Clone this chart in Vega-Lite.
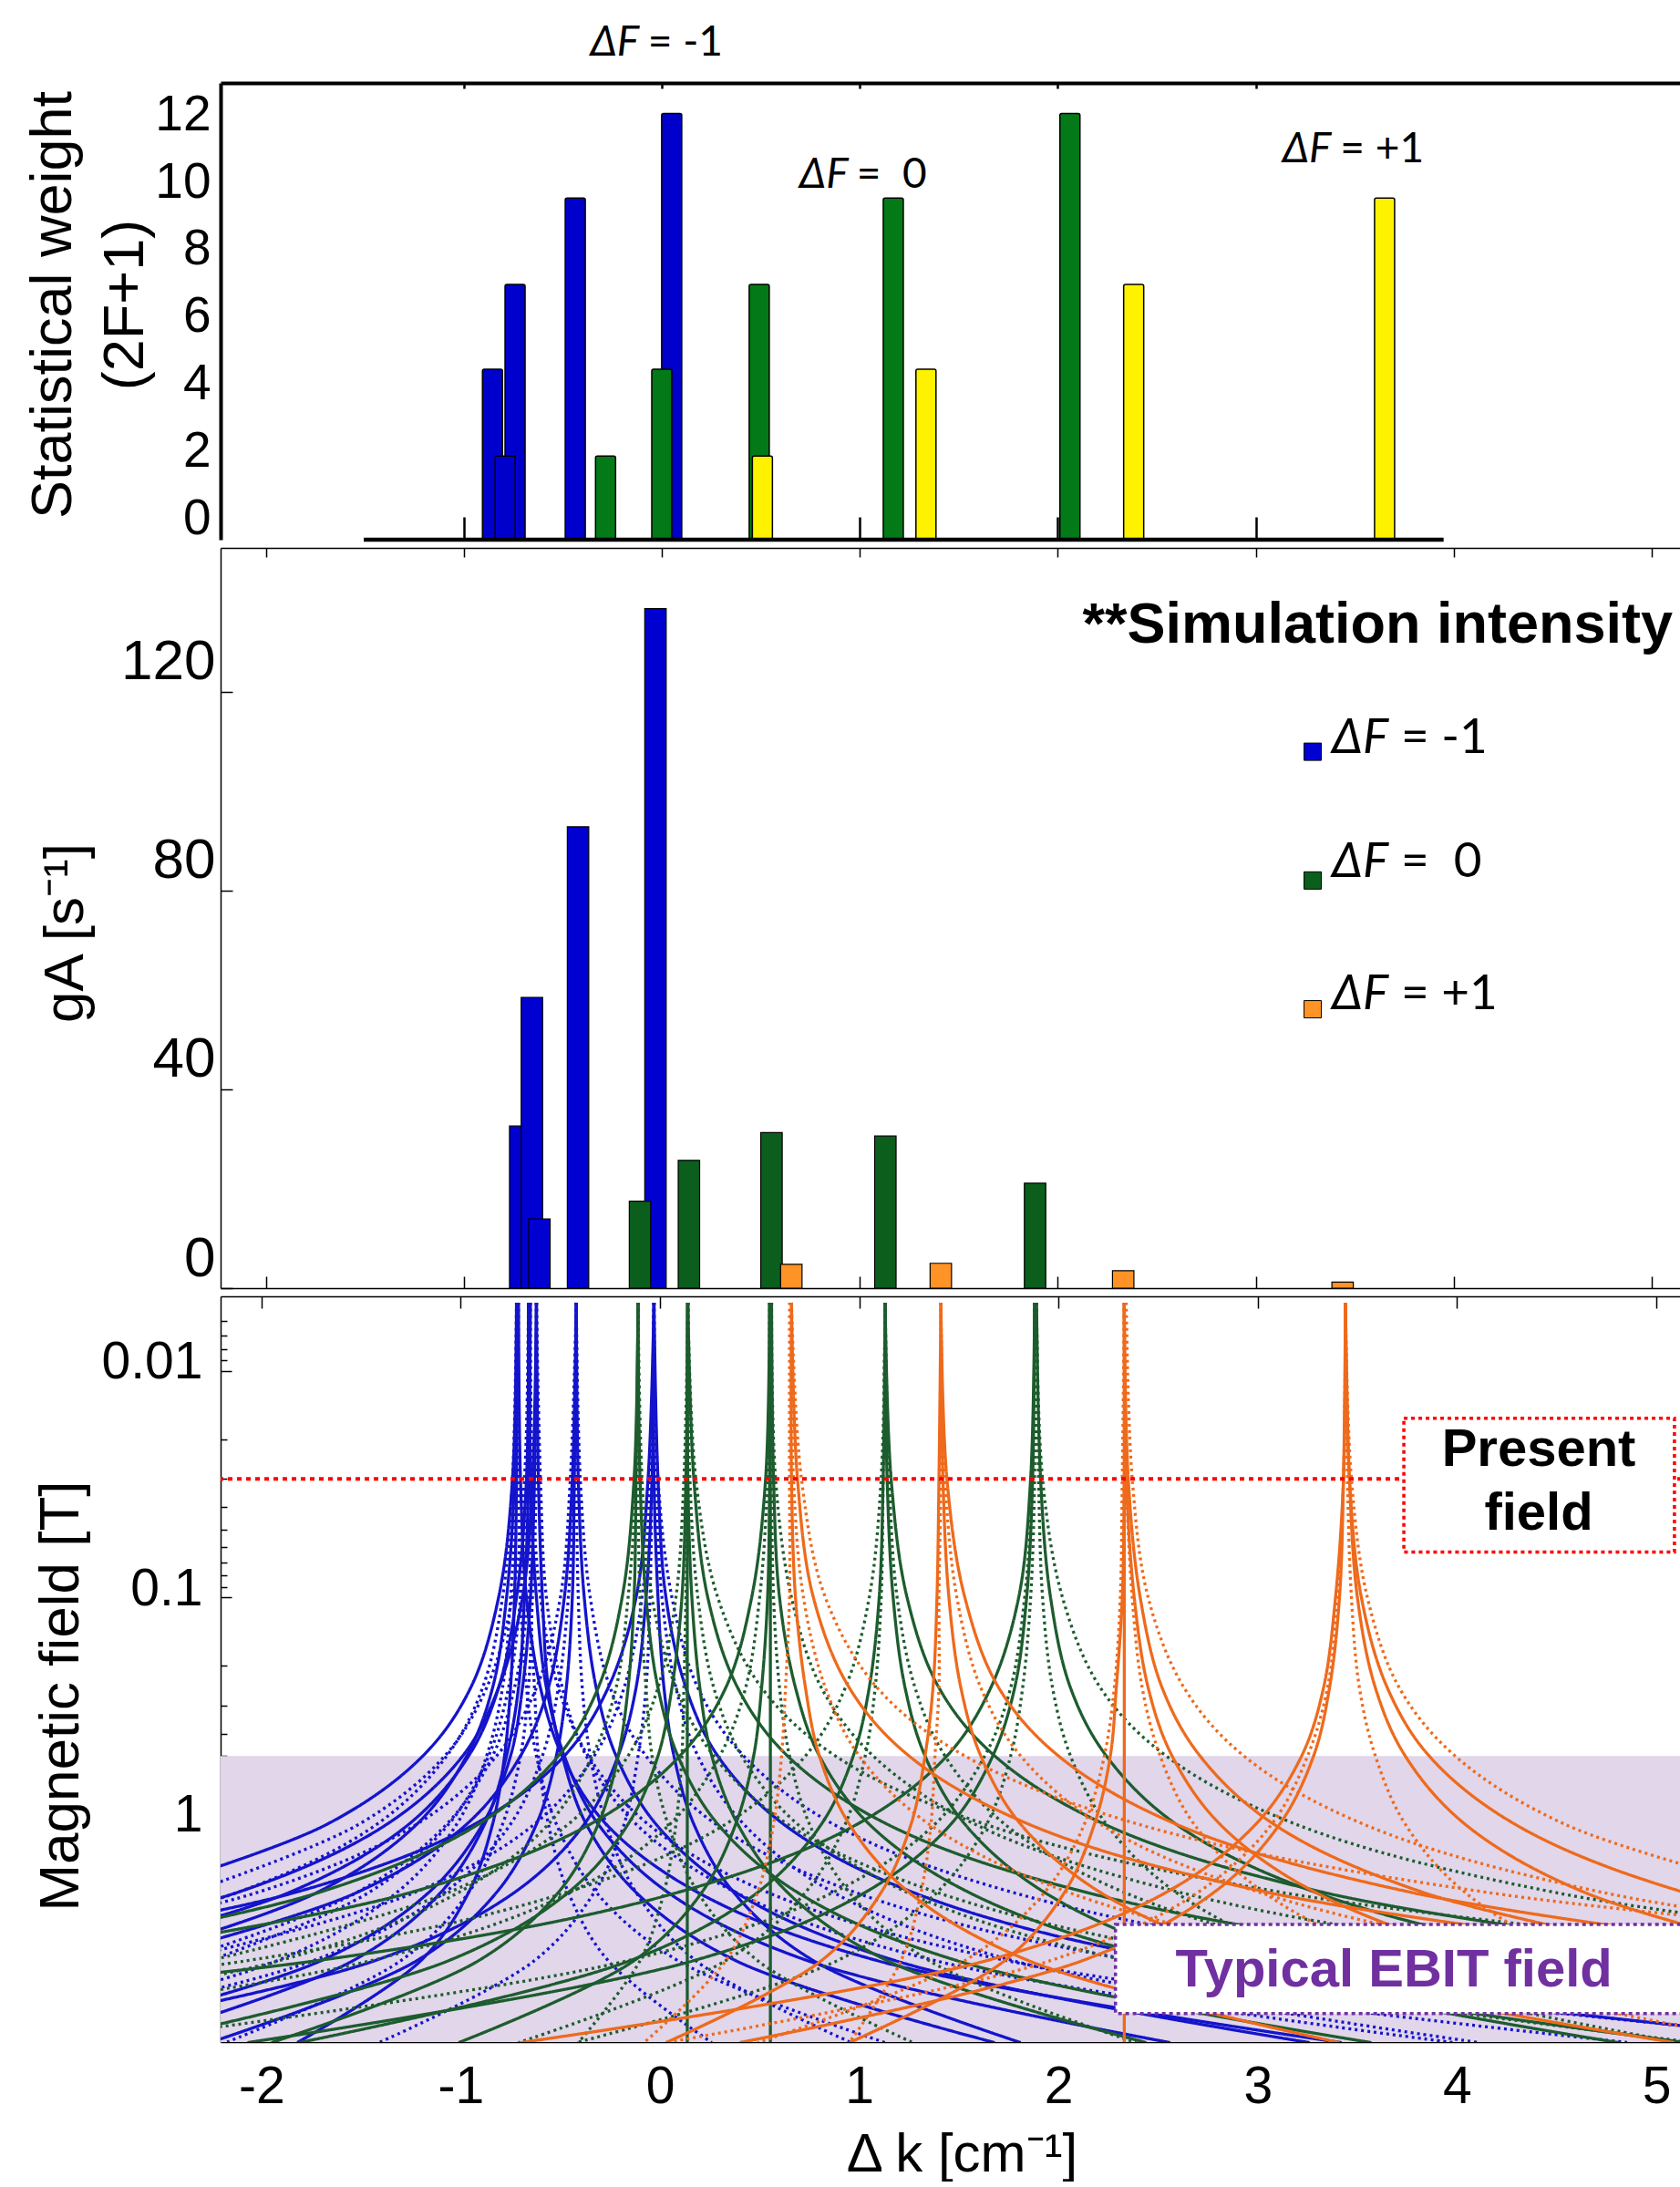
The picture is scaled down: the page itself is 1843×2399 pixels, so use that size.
{
"$schema":"https://vega.github.io/schema/vega-lite/v6.json",
"background":"white",
"padding":{"left":26,"top":24,"right":0,"bottom":0},
"config":{"view":{"stroke":null},"font":"Liberation Sans","axis":{"grid":false,"domainColor":"black","tickColor":"black","labelColor":"black","titleColor":"black","labelFont":"Liberation Sans","titleFont":"Liberation Sans","titleFontWeight":"normal","labelFlush":false,"labelOverlap":false}},
"datasets":{"curves":[
{"c":"b1a","g":"-1","p":"pi","B":0.005,"k":-0.72},{"c":"b1a","g":"-1","p":"pi","B":0.03,"k":-0.74},{"c":"b1a","g":"-1","p":"pi","B":0.1,"k":-0.81},{"c":"b1a","g":"-1","p":"pi","B":0.25,"k":-0.95},{"c":"b1a","g":"-1","p":"pi","B":0.5,"k":-1.19},{"c":"b1a","g":"-1","p":"pi","B":1,"k":-1.67},{"c":"b1a","g":"-1","p":"pi","B":2,"k":-2.62},
{"c":"b1b","g":"-1","p":"sg","B":0.005,"k":-0.72},{"c":"b1b","g":"-1","p":"sg","B":0.03,"k":-0.74},{"c":"b1b","g":"-1","p":"sg","B":0.1,"k":-0.79},{"c":"b1b","g":"-1","p":"sg","B":0.25,"k":-0.89},{"c":"b1b","g":"-1","p":"sg","B":0.5,"k":-1.07},{"c":"b1b","g":"-1","p":"sg","B":1,"k":-1.42},{"c":"b1b","g":"-1","p":"sg","B":2,"k":-2.12},{"c":"b1b","g":"-1","p":"sg","B":4,"k":-3.52},
{"c":"b1c","g":"-1","p":"pi","B":0.005,"k":-0.72},{"c":"b1c","g":"-1","p":"pi","B":0.03,"k":-0.73},{"c":"b1c","g":"-1","p":"pi","B":0.1,"k":-0.77},{"c":"b1c","g":"-1","p":"pi","B":0.25,"k":-0.84},{"c":"b1c","g":"-1","p":"pi","B":0.5,"k":-0.97},{"c":"b1c","g":"-1","p":"pi","B":1,"k":-1.22},{"c":"b1c","g":"-1","p":"pi","B":2,"k":-1.72},{"c":"b1c","g":"-1","p":"pi","B":4,"k":-2.72},
{"c":"b1d","g":"-1","p":"sg","B":0.005,"k":-0.72},{"c":"b1d","g":"-1","p":"sg","B":0.03,"k":-0.72},{"c":"b1d","g":"-1","p":"sg","B":0.1,"k":-0.75},{"c":"b1d","g":"-1","p":"sg","B":0.25,"k":-0.79},{"c":"b1d","g":"-1","p":"sg","B":0.5,"k":-0.87},{"c":"b1d","g":"-1","p":"sg","B":1,"k":-1.02},{"c":"b1d","g":"-1","p":"sg","B":2,"k":-1.32},{"c":"b1d","g":"-1","p":"sg","B":4,"k":-1.92},{"c":"b1d","g":"-1","p":"sg","B":9.2,"k":-3.48},
{"c":"b1e","g":"-1","p":"pi","B":0.005,"k":-0.72},{"c":"b1e","g":"-1","p":"pi","B":0.03,"k":-0.72},{"c":"b1e","g":"-1","p":"pi","B":0.1,"k":-0.73},{"c":"b1e","g":"-1","p":"pi","B":0.25,"k":-0.75},{"c":"b1e","g":"-1","p":"pi","B":0.5,"k":-0.78},{"c":"b1e","g":"-1","p":"pi","B":1,"k":-0.84},{"c":"b1e","g":"-1","p":"pi","B":2,"k":-0.96},{"c":"b1e","g":"-1","p":"pi","B":4,"k":-1.2},{"c":"b1e","g":"-1","p":"pi","B":9.2,"k":-1.82},
{"c":"b1f","g":"-1","p":"sg","B":0.005,"k":-0.71},{"c":"b1f","g":"-1","p":"sg","B":0.03,"k":-0.71},{"c":"b1f","g":"-1","p":"sg","B":0.1,"k":-0.7},{"c":"b1f","g":"-1","p":"sg","B":0.25,"k":-0.67},{"c":"b1f","g":"-1","p":"sg","B":0.5,"k":-0.62},{"c":"b1f","g":"-1","p":"sg","B":1,"k":-0.52},{"c":"b1f","g":"-1","p":"sg","B":2,"k":-0.32},{"c":"b1f","g":"-1","p":"sg","B":4,"k":0.09},{"c":"b1f","g":"-1","p":"sg","B":9.2,"k":1.13},
{"c":"b1g","g":"-1","p":"pi","B":0.005,"k":-0.71},{"c":"b1g","g":"-1","p":"pi","B":0.03,"k":-0.7},{"c":"b1g","g":"-1","p":"pi","B":0.1,"k":-0.67},{"c":"b1g","g":"-1","p":"pi","B":0.25,"k":-0.6},{"c":"b1g","g":"-1","p":"pi","B":0.5,"k":-0.49},{"c":"b1g","g":"-1","p":"pi","B":1,"k":-0.27},{"c":"b1g","g":"-1","p":"pi","B":2,"k":0.19},{"c":"b1g","g":"-1","p":"pi","B":4,"k":1.09},{"c":"b1g","g":"-1","p":"pi","B":9.2,"k":3.42},
{"c":"b2a","g":"-1","p":"sg","B":0.005,"k":-0.66},{"c":"b2a","g":"-1","p":"sg","B":0.03,"k":-0.68},{"c":"b2a","g":"-1","p":"sg","B":0.1,"k":-0.74},{"c":"b2a","g":"-1","p":"sg","B":0.25,"k":-0.87},{"c":"b2a","g":"-1","p":"sg","B":0.5,"k":-1.08},{"c":"b2a","g":"-1","p":"sg","B":1,"k":-1.51},{"c":"b2a","g":"-1","p":"sg","B":2,"k":-2.36},
{"c":"b2b","g":"-1","p":"pi","B":0.005,"k":-0.66},{"c":"b2b","g":"-1","p":"pi","B":0.03,"k":-0.67},{"c":"b2b","g":"-1","p":"pi","B":0.1,"k":-0.72},{"c":"b2b","g":"-1","p":"pi","B":0.25,"k":-0.81},{"c":"b2b","g":"-1","p":"pi","B":0.5,"k":-0.96},{"c":"b2b","g":"-1","p":"pi","B":1,"k":-1.26},{"c":"b2b","g":"-1","p":"pi","B":2,"k":-1.86},{"c":"b2b","g":"-1","p":"pi","B":4,"k":-3.06},
{"c":"b2c","g":"-1","p":"sg","B":0.005,"k":-0.66},{"c":"b2c","g":"-1","p":"sg","B":0.03,"k":-0.67},{"c":"b2c","g":"-1","p":"sg","B":0.1,"k":-0.7},{"c":"b2c","g":"-1","p":"sg","B":0.25,"k":-0.76},{"c":"b2c","g":"-1","p":"sg","B":0.5,"k":-0.86},{"c":"b2c","g":"-1","p":"sg","B":1,"k":-1.06},{"c":"b2c","g":"-1","p":"sg","B":2,"k":-1.46},{"c":"b2c","g":"-1","p":"sg","B":4,"k":-2.26},
{"c":"b2d","g":"-1","p":"pi","B":0.005,"k":-0.66},{"c":"b2d","g":"-1","p":"pi","B":0.03,"k":-0.66},{"c":"b2d","g":"-1","p":"pi","B":0.1,"k":-0.68},{"c":"b2d","g":"-1","p":"pi","B":0.25,"k":-0.71},{"c":"b2d","g":"-1","p":"pi","B":0.5,"k":-0.77},{"c":"b2d","g":"-1","p":"pi","B":1,"k":-0.88},{"c":"b2d","g":"-1","p":"pi","B":2,"k":-1.1},{"c":"b2d","g":"-1","p":"pi","B":4,"k":-1.54},{"c":"b2d","g":"-1","p":"pi","B":9.2,"k":-2.68},
{"c":"b2e","g":"-1","p":"sg","B":0.005,"k":-0.66},{"c":"b2e","g":"-1","p":"sg","B":0.03,"k":-0.65},{"c":"b2e","g":"-1","p":"sg","B":0.1,"k":-0.65},{"c":"b2e","g":"-1","p":"sg","B":0.25,"k":-0.63},{"c":"b2e","g":"-1","p":"sg","B":0.5,"k":-0.61},{"c":"b2e","g":"-1","p":"sg","B":1,"k":-0.56},{"c":"b2e","g":"-1","p":"sg","B":2,"k":-0.46},{"c":"b2e","g":"-1","p":"sg","B":4,"k":-0.26},{"c":"b2e","g":"-1","p":"sg","B":9.2,"k":0.26},
{"c":"b2f","g":"-1","p":"pi","B":0.005,"k":-0.65},{"c":"b2f","g":"-1","p":"pi","B":0.03,"k":-0.65},{"c":"b2f","g":"-1","p":"pi","B":0.1,"k":-0.62},{"c":"b2f","g":"-1","p":"pi","B":0.25,"k":-0.57},{"c":"b2f","g":"-1","p":"pi","B":0.5,"k":-0.48},{"c":"b2f","g":"-1","p":"pi","B":1,"k":-0.31},{"c":"b2f","g":"-1","p":"pi","B":2,"k":0.04},{"c":"b2f","g":"-1","p":"pi","B":4,"k":0.74},{"c":"b2f","g":"-1","p":"pi","B":9.2,"k":2.56},
{"c":"b2g","g":"-1","p":"sg","B":0.005,"k":-0.65},{"c":"b2g","g":"-1","p":"sg","B":0.03,"k":-0.64},{"c":"b2g","g":"-1","p":"sg","B":0.1,"k":-0.6},{"c":"b2g","g":"-1","p":"sg","B":0.25,"k":-0.51},{"c":"b2g","g":"-1","p":"sg","B":0.5,"k":-0.36},{"c":"b2g","g":"-1","p":"sg","B":1,"k":-0.06},{"c":"b2g","g":"-1","p":"sg","B":2,"k":0.54},{"c":"b2g","g":"-1","p":"sg","B":4,"k":1.74},{"c":"b2g","g":"-1","p":"sg","B":9.2,"k":4.86},
{"c":"b3a","g":"-1","p":"pi","B":0.005,"k":-0.62},{"c":"b3a","g":"-1","p":"pi","B":0.03,"k":-0.64},{"c":"b3a","g":"-1","p":"pi","B":0.1,"k":-0.69},{"c":"b3a","g":"-1","p":"pi","B":0.25,"k":-0.81},{"c":"b3a","g":"-1","p":"pi","B":0.5,"k":-0.99},{"c":"b3a","g":"-1","p":"pi","B":1,"k":-1.37},{"c":"b3a","g":"-1","p":"pi","B":2,"k":-2.12},{"c":"b3a","g":"-1","p":"pi","B":4,"k":-3.62},
{"c":"b3b","g":"-1","p":"sg","B":0.005,"k":-0.62},{"c":"b3b","g":"-1","p":"sg","B":0.03,"k":-0.63},{"c":"b3b","g":"-1","p":"sg","B":0.1,"k":-0.66},{"c":"b3b","g":"-1","p":"sg","B":0.25,"k":-0.73},{"c":"b3b","g":"-1","p":"sg","B":0.5,"k":-0.84},{"c":"b3b","g":"-1","p":"sg","B":1,"k":-1.07},{"c":"b3b","g":"-1","p":"sg","B":2,"k":-1.52},{"c":"b3b","g":"-1","p":"sg","B":4,"k":-2.42},
{"c":"b3c","g":"-1","p":"pi","B":0.005,"k":-0.62},{"c":"b3c","g":"-1","p":"pi","B":0.03,"k":-0.63},{"c":"b3c","g":"-1","p":"pi","B":0.1,"k":-0.65},{"c":"b3c","g":"-1","p":"pi","B":0.25,"k":-0.69},{"c":"b3c","g":"-1","p":"pi","B":0.5,"k":-0.75},{"c":"b3c","g":"-1","p":"pi","B":1,"k":-0.89},{"c":"b3c","g":"-1","p":"pi","B":2,"k":-1.16},{"c":"b3c","g":"-1","p":"pi","B":4,"k":-1.7},{"c":"b3c","g":"-1","p":"pi","B":9.2,"k":-3.1},
{"c":"b3d","g":"-1","p":"sg","B":0.005,"k":-0.62},{"c":"b3d","g":"-1","p":"sg","B":0.03,"k":-0.62},{"c":"b3d","g":"-1","p":"sg","B":0.1,"k":-0.64},{"c":"b3d","g":"-1","p":"sg","B":0.25,"k":-0.66},{"c":"b3d","g":"-1","p":"sg","B":0.5,"k":-0.7},{"c":"b3d","g":"-1","p":"sg","B":1,"k":-0.79},{"c":"b3d","g":"-1","p":"sg","B":2,"k":-0.96},{"c":"b3d","g":"-1","p":"sg","B":4,"k":-1.3},{"c":"b3d","g":"-1","p":"sg","B":9.2,"k":-2.18},
{"c":"b3e","g":"-1","p":"pi","B":0.005,"k":-0.62},{"c":"b3e","g":"-1","p":"pi","B":0.03,"k":-0.61},{"c":"b3e","g":"-1","p":"pi","B":0.1,"k":-0.59},{"c":"b3e","g":"-1","p":"pi","B":0.25,"k":-0.56},{"c":"b3e","g":"-1","p":"pi","B":0.5,"k":-0.49},{"c":"b3e","g":"-1","p":"pi","B":1,"k":-0.37},{"c":"b3e","g":"-1","p":"pi","B":2,"k":-0.12},{"c":"b3e","g":"-1","p":"pi","B":4,"k":0.38},{"c":"b3e","g":"-1","p":"pi","B":9.2,"k":1.68},
{"c":"b3f","g":"-1","p":"sg","B":0.005,"k":-0.62},{"c":"b3f","g":"-1","p":"sg","B":0.03,"k":-0.6},{"c":"b3f","g":"-1","p":"sg","B":0.1,"k":-0.57},{"c":"b3f","g":"-1","p":"sg","B":0.25,"k":-0.49},{"c":"b3f","g":"-1","p":"sg","B":0.5,"k":-0.37},{"c":"b3f","g":"-1","p":"sg","B":1,"k":-0.12},{"c":"b3f","g":"-1","p":"sg","B":2,"k":0.38},{"c":"b3f","g":"-1","p":"sg","B":4,"k":1.38},{"c":"b3f","g":"-1","p":"sg","B":9.2,"k":3.98},
{"c":"b4a","g":"-1","p":"sg","B":0.005,"k":-0.42},{"c":"b4a","g":"-1","p":"sg","B":0.03,"k":-0.45},{"c":"b4a","g":"-1","p":"sg","B":0.1,"k":-0.5},{"c":"b4a","g":"-1","p":"sg","B":0.25,"k":-0.62},{"c":"b4a","g":"-1","p":"sg","B":0.5,"k":-0.82},{"c":"b4a","g":"-1","p":"sg","B":1,"k":-1.22},{"c":"b4a","g":"-1","p":"sg","B":2,"k":-2.02},{"c":"b4a","g":"-1","p":"sg","B":4,"k":-3.62},
{"c":"b4b","g":"-1","p":"pi","B":0.005,"k":-0.42},{"c":"b4b","g":"-1","p":"pi","B":0.03,"k":-0.44},{"c":"b4b","g":"-1","p":"pi","B":0.1,"k":-0.48},{"c":"b4b","g":"-1","p":"pi","B":0.25,"k":-0.56},{"c":"b4b","g":"-1","p":"pi","B":0.5,"k":-0.7},{"c":"b4b","g":"-1","p":"pi","B":1,"k":-0.97},{"c":"b4b","g":"-1","p":"pi","B":2,"k":-1.52},{"c":"b4b","g":"-1","p":"pi","B":4,"k":-2.62},
{"c":"b4c","g":"-1","p":"sg","B":0.005,"k":-0.42},{"c":"b4c","g":"-1","p":"sg","B":0.03,"k":-0.43},{"c":"b4c","g":"-1","p":"sg","B":0.1,"k":-0.46},{"c":"b4c","g":"-1","p":"sg","B":0.25,"k":-0.51},{"c":"b4c","g":"-1","p":"sg","B":0.5,"k":-0.59},{"c":"b4c","g":"-1","p":"sg","B":1,"k":-0.75},{"c":"b4c","g":"-1","p":"sg","B":2,"k":-1.08},{"c":"b4c","g":"-1","p":"sg","B":4,"k":-1.74},{"c":"b4c","g":"-1","p":"sg","B":9.2,"k":-3.46},
{"c":"b4d","g":"-1","p":"pi","B":0.005,"k":-0.42},{"c":"b4d","g":"-1","p":"pi","B":0.03,"k":-0.43},{"c":"b4d","g":"-1","p":"pi","B":0.1,"k":-0.44},{"c":"b4d","g":"-1","p":"pi","B":0.25,"k":-0.47},{"c":"b4d","g":"-1","p":"pi","B":0.5,"k":-0.52},{"c":"b4d","g":"-1","p":"pi","B":1,"k":-0.62},{"c":"b4d","g":"-1","p":"pi","B":2,"k":-0.82},{"c":"b4d","g":"-1","p":"pi","B":4,"k":-1.22},{"c":"b4d","g":"-1","p":"pi","B":9.2,"k":-2.26},
{"c":"b4e","g":"-1","p":"sg","B":0.005,"k":-0.42},{"c":"b4e","g":"-1","p":"sg","B":0.03,"k":-0.42},{"c":"b4e","g":"-1","p":"sg","B":0.1,"k":-0.41},{"c":"b4e","g":"-1","p":"sg","B":0.25,"k":-0.39},{"c":"b4e","g":"-1","p":"sg","B":0.5,"k":-0.35},{"c":"b4e","g":"-1","p":"sg","B":1,"k":-0.27},{"c":"b4e","g":"-1","p":"sg","B":2,"k":-0.12},{"c":"b4e","g":"-1","p":"sg","B":4,"k":0.18},{"c":"b4e","g":"-1","p":"sg","B":9.2,"k":0.96},
{"c":"b4f","g":"-1","p":"pi","B":0.005,"k":-0.42},{"c":"b4f","g":"-1","p":"pi","B":0.03,"k":-0.41},{"c":"b4f","g":"-1","p":"pi","B":0.1,"k":-0.38},{"c":"b4f","g":"-1","p":"pi","B":0.25,"k":-0.32},{"c":"b4f","g":"-1","p":"pi","B":0.5,"k":-0.22},{"c":"b4f","g":"-1","p":"pi","B":1,"k":-0.02},{"c":"b4f","g":"-1","p":"pi","B":2,"k":0.38},{"c":"b4f","g":"-1","p":"pi","B":4,"k":1.18},{"c":"b4f","g":"-1","p":"pi","B":9.2,"k":3.26},
{"c":"b4g","g":"-1","p":"sg","B":0.005,"k":-0.42},{"c":"b4g","g":"-1","p":"sg","B":0.03,"k":-0.4},{"c":"b4g","g":"-1","p":"sg","B":0.1,"k":-0.35},{"c":"b4g","g":"-1","p":"sg","B":0.25,"k":-0.25},{"c":"b4g","g":"-1","p":"sg","B":0.5,"k":-0.07},{"c":"b4g","g":"-1","p":"sg","B":1,"k":0.28},{"c":"b4g","g":"-1","p":"sg","B":2,"k":0.98},{"c":"b4g","g":"-1","p":"sg","B":4,"k":2.38},{"c":"b4g","g":"-1","p":"sg","B":9.2,"k":6.02},
{"c":"b5a","g":"-1","p":"pi","B":0.005,"k":-0.03},{"c":"b5a","g":"-1","p":"pi","B":0.03,"k":-0.06},{"c":"b5a","g":"-1","p":"pi","B":0.1,"k":-0.12},{"c":"b5a","g":"-1","p":"pi","B":0.25,"k":-0.26},{"c":"b5a","g":"-1","p":"pi","B":0.5,"k":-0.48},{"c":"b5a","g":"-1","p":"pi","B":1,"k":-0.93},{"c":"b5a","g":"-1","p":"pi","B":2,"k":-1.83},{"c":"b5a","g":"-1","p":"pi","B":4,"k":-3.63},
{"c":"b5b","g":"-1","p":"sg","B":0.005,"k":-0.03},{"c":"b5b","g":"-1","p":"sg","B":0.03,"k":-0.05},{"c":"b5b","g":"-1","p":"sg","B":0.1,"k":-0.09},{"c":"b5b","g":"-1","p":"sg","B":0.25,"k":-0.18},{"c":"b5b","g":"-1","p":"sg","B":0.5,"k":-0.33},{"c":"b5b","g":"-1","p":"sg","B":1,"k":-0.63},{"c":"b5b","g":"-1","p":"sg","B":2,"k":-1.23},{"c":"b5b","g":"-1","p":"sg","B":4,"k":-2.43},
{"c":"b5c","g":"-1","p":"pi","B":0.005,"k":-0.03},{"c":"b5c","g":"-1","p":"pi","B":0.03,"k":-0.04},{"c":"b5c","g":"-1","p":"pi","B":0.1,"k":-0.07},{"c":"b5c","g":"-1","p":"pi","B":0.25,"k":-0.12},{"c":"b5c","g":"-1","p":"pi","B":0.5,"k":-0.21},{"c":"b5c","g":"-1","p":"pi","B":1,"k":-0.38},{"c":"b5c","g":"-1","p":"pi","B":2,"k":-0.73},{"c":"b5c","g":"-1","p":"pi","B":4,"k":-1.43},{"c":"b5c","g":"-1","p":"pi","B":9.2,"k":-3.25},
{"c":"b5d","g":"-1","p":"sg","B":0.005,"k":-0.03},{"c":"b5d","g":"-1","p":"sg","B":0.03,"k":-0.04},{"c":"b5d","g":"-1","p":"sg","B":0.1,"k":-0.05},{"c":"b5d","g":"-1","p":"sg","B":0.25,"k":-0.07},{"c":"b5d","g":"-1","p":"sg","B":0.5,"k":-0.11},{"c":"b5d","g":"-1","p":"sg","B":1,"k":-0.18},{"c":"b5d","g":"-1","p":"sg","B":2,"k":-0.33},{"c":"b5d","g":"-1","p":"sg","B":4,"k":-0.63},{"c":"b5d","g":"-1","p":"sg","B":9.2,"k":-1.41},
{"c":"b5e","g":"-1","p":"pi","B":0.005,"k":-0.03},{"c":"b5e","g":"-1","p":"pi","B":0.03,"k":-0.03},{"c":"b5e","g":"-1","p":"pi","B":0.1,"k":-0.01},{"c":"b5e","g":"-1","p":"pi","B":0.25,"k":0.02},{"c":"b5e","g":"-1","p":"pi","B":0.5,"k":0.07},{"c":"b5e","g":"-1","p":"pi","B":1,"k":0.17},{"c":"b5e","g":"-1","p":"pi","B":2,"k":0.37},{"c":"b5e","g":"-1","p":"pi","B":4,"k":0.77},{"c":"b5e","g":"-1","p":"pi","B":9.2,"k":1.81},
{"c":"b5f","g":"-1","p":"sg","B":0.005,"k":-0.03},{"c":"b5f","g":"-1","p":"sg","B":0.03,"k":-0.02},{"c":"b5f","g":"-1","p":"sg","B":0.1,"k":0.01},{"c":"b5f","g":"-1","p":"sg","B":0.25,"k":0.08},{"c":"b5f","g":"-1","p":"sg","B":0.5,"k":0.19},{"c":"b5f","g":"-1","p":"sg","B":1,"k":0.42},{"c":"b5f","g":"-1","p":"sg","B":2,"k":0.87},{"c":"b5f","g":"-1","p":"sg","B":4,"k":1.77},{"c":"b5f","g":"-1","p":"sg","B":9.2,"k":4.11},
{"c":"b5g","g":"-1","p":"pi","B":0.005,"k":-0.03},{"c":"b5g","g":"-1","p":"pi","B":0.03,"k":-0.01},{"c":"b5g","g":"-1","p":"pi","B":0.1,"k":0.03},{"c":"b5g","g":"-1","p":"pi","B":0.25,"k":0.13},{"c":"b5g","g":"-1","p":"pi","B":0.5,"k":0.29},{"c":"b5g","g":"-1","p":"pi","B":1,"k":0.62},{"c":"b5g","g":"-1","p":"pi","B":2,"k":1.27},{"c":"b5g","g":"-1","p":"pi","B":4,"k":2.57},{"c":"b5g","g":"-1","p":"pi","B":9.2,"k":5.95},
{"c":"b5h","g":"-1","p":"sg","B":0.005,"k":-0.03},{"c":"b5h","g":"-1","p":"sg","B":0.03,"k":-0.01},{"c":"b5h","g":"-1","p":"sg","B":0.1,"k":0.06},{"c":"b5h","g":"-1","p":"sg","B":0.25,"k":0.19},{"c":"b5h","g":"-1","p":"sg","B":0.5,"k":0.42},{"c":"b5h","g":"-1","p":"sg","B":1,"k":0.87},{"c":"b5h","g":"-1","p":"sg","B":2,"k":1.77},{"c":"b5h","g":"-1","p":"sg","B":4,"k":3.57},{"c":"b5h","g":"-1","p":"sg","B":9.2,"k":8.25},
{"c":"g1a","g":"0","p":"pi","B":0.005,"k":-0.11},{"c":"g1a","g":"0","p":"pi","B":0.03,"k":-0.13},{"c":"g1a","g":"0","p":"pi","B":0.1,"k":-0.19},{"c":"g1a","g":"0","p":"pi","B":0.25,"k":-0.31},{"c":"g1a","g":"0","p":"pi","B":0.5,"k":-0.51},{"c":"g1a","g":"0","p":"pi","B":1,"k":-0.91},{"c":"g1a","g":"0","p":"pi","B":2,"k":-1.71},{"c":"g1a","g":"0","p":"pi","B":4,"k":-3.31},
{"c":"g1b","g":"0","p":"sg","B":0.005,"k":-0.11},{"c":"g1b","g":"0","p":"sg","B":0.03,"k":-0.12},{"c":"g1b","g":"0","p":"sg","B":0.1,"k":-0.16},{"c":"g1b","g":"0","p":"sg","B":0.25,"k":-0.22},{"c":"g1b","g":"0","p":"sg","B":0.5,"k":-0.34},{"c":"g1b","g":"0","p":"sg","B":1,"k":-0.56},{"c":"g1b","g":"0","p":"sg","B":2,"k":-1.01},{"c":"g1b","g":"0","p":"sg","B":4,"k":-1.91},{"c":"g1b","g":"0","p":"sg","B":9.2,"k":-4.25},
{"c":"g1c","g":"0","p":"pi","B":0.005,"k":-0.11},{"c":"g1c","g":"0","p":"pi","B":0.03,"k":-0.12},{"c":"g1c","g":"0","p":"pi","B":0.1,"k":-0.13},{"c":"g1c","g":"0","p":"pi","B":0.25,"k":-0.16},{"c":"g1c","g":"0","p":"pi","B":0.5,"k":-0.21},{"c":"g1c","g":"0","p":"pi","B":1,"k":-0.31},{"c":"g1c","g":"0","p":"pi","B":2,"k":-0.51},{"c":"g1c","g":"0","p":"pi","B":4,"k":-0.91},{"c":"g1c","g":"0","p":"pi","B":9.2,"k":-1.95},
{"c":"g1d","g":"0","p":"sg","B":0.005,"k":-0.11},{"c":"g1d","g":"0","p":"sg","B":0.03,"k":-0.11},{"c":"g1d","g":"0","p":"sg","B":0.1,"k":-0.1},{"c":"g1d","g":"0","p":"sg","B":0.25,"k":-0.07},{"c":"g1d","g":"0","p":"sg","B":0.5,"k":-0.04},{"c":"g1d","g":"0","p":"sg","B":1,"k":0.04},{"c":"g1d","g":"0","p":"sg","B":2,"k":0.19},{"c":"g1d","g":"0","p":"sg","B":4,"k":0.49},{"c":"g1d","g":"0","p":"sg","B":9.2,"k":1.27},
{"c":"g1e","g":"0","p":"pi","B":0.005,"k":-0.11},{"c":"g1e","g":"0","p":"pi","B":0.03,"k":-0.1},{"c":"g1e","g":"0","p":"pi","B":0.1,"k":-0.07},{"c":"g1e","g":"0","p":"pi","B":0.25,"k":-0.01},{"c":"g1e","g":"0","p":"pi","B":0.5,"k":0.09},{"c":"g1e","g":"0","p":"pi","B":1,"k":0.29},{"c":"g1e","g":"0","p":"pi","B":2,"k":0.69},{"c":"g1e","g":"0","p":"pi","B":4,"k":1.49},{"c":"g1e","g":"0","p":"pi","B":9.2,"k":3.57},
{"c":"g1f","g":"0","p":"sg","B":0.005,"k":-0.11},{"c":"g1f","g":"0","p":"sg","B":0.03,"k":-0.09},{"c":"g1f","g":"0","p":"sg","B":0.1,"k":-0.04},{"c":"g1f","g":"0","p":"sg","B":0.25,"k":0.08},{"c":"g1f","g":"0","p":"sg","B":0.5,"k":0.27},{"c":"g1f","g":"0","p":"sg","B":1,"k":0.64},{"c":"g1f","g":"0","p":"sg","B":2,"k":1.39},{"c":"g1f","g":"0","p":"sg","B":4,"k":2.89},{"c":"g1f","g":"0","p":"sg","B":9.2,"k":6.79},
{"c":"g2a","g":"0","p":"sg","B":0.005,"k":0.14},{"c":"g2a","g":"0","p":"sg","B":0.03,"k":0.12},{"c":"g2a","g":"0","p":"sg","B":0.1,"k":0.08},{"c":"g2a","g":"0","p":"sg","B":0.25,"k":-0.01},{"c":"g2a","g":"0","p":"sg","B":0.5,"k":-0.16},{"c":"g2a","g":"0","p":"sg","B":1,"k":-0.46},{"c":"g2a","g":"0","p":"sg","B":2,"k":-1.06},{"c":"g2a","g":"0","p":"sg","B":4,"k":-2.26},
{"c":"g2b","g":"0","p":"pi","B":0.005,"k":0.14},{"c":"g2b","g":"0","p":"pi","B":0.03,"k":0.13},{"c":"g2b","g":"0","p":"pi","B":0.1,"k":0.11},{"c":"g2b","g":"0","p":"pi","B":0.25,"k":0.06},{"c":"g2b","g":"0","p":"pi","B":0.5,"k":-0.01},{"c":"g2b","g":"0","p":"pi","B":1,"k":-0.16},{"c":"g2b","g":"0","p":"pi","B":2,"k":-0.46},{"c":"g2b","g":"0","p":"pi","B":4,"k":-1.06},{"c":"g2b","g":"0","p":"pi","B":9.2,"k":-2.62},
{"c":"g2c","g":"0","p":"sg","B":0.005,"k":0.14},{"c":"g2c","g":"0","p":"sg","B":0.03,"k":0.14},{"c":"g2c","g":"0","p":"sg","B":0.1,"k":0.13},{"c":"g2c","g":"0","p":"sg","B":0.25,"k":0.12},{"c":"g2c","g":"0","p":"sg","B":0.5,"k":0.11},{"c":"g2c","g":"0","p":"sg","B":1,"k":0.08},{"c":"g2c","g":"0","p":"sg","B":2,"k":0.02},{"c":"g2c","g":"0","p":"sg","B":4,"k":-0.1},{"c":"g2c","g":"0","p":"sg","B":9.2,"k":-0.41},
{"c":"g2d","g":"0","p":"pi","B":0.005,"k":0.137},{"c":"g2d","g":"0","p":"pi","B":9.2,"k":0.137},
{"c":"g2e","g":"0","p":"pi","B":0.005,"k":0.14},{"c":"g2e","g":"0","p":"pi","B":0.03,"k":0.14},{"c":"g2e","g":"0","p":"pi","B":0.1,"k":0.16},{"c":"g2e","g":"0","p":"pi","B":0.25,"k":0.2},{"c":"g2e","g":"0","p":"pi","B":0.5,"k":0.26},{"c":"g2e","g":"0","p":"pi","B":1,"k":0.39},{"c":"g2e","g":"0","p":"pi","B":2,"k":0.64},{"c":"g2e","g":"0","p":"pi","B":4,"k":1.14},{"c":"g2e","g":"0","p":"pi","B":9.2,"k":2.44},
{"c":"g2f","g":"0","p":"sg","B":0.005,"k":0.14},{"c":"g2f","g":"0","p":"sg","B":0.03,"k":0.15},{"c":"g2f","g":"0","p":"sg","B":0.1,"k":0.19},{"c":"g2f","g":"0","p":"sg","B":0.25,"k":0.27},{"c":"g2f","g":"0","p":"sg","B":0.5,"k":0.41},{"c":"g2f","g":"0","p":"sg","B":1,"k":0.69},{"c":"g2f","g":"0","p":"sg","B":2,"k":1.24},{"c":"g2f","g":"0","p":"sg","B":4,"k":2.34},{"c":"g2f","g":"0","p":"sg","B":9.2,"k":5.2},
{"c":"g2g","g":"0","p":"pi","B":0.005,"k":0.14},{"c":"g2g","g":"0","p":"pi","B":0.03,"k":0.17},{"c":"g2g","g":"0","p":"pi","B":0.1,"k":0.24},{"c":"g2g","g":"0","p":"pi","B":0.25,"k":0.39},{"c":"g2g","g":"0","p":"pi","B":0.5,"k":0.64},{"c":"g2g","g":"0","p":"pi","B":1,"k":1.14},{"c":"g2g","g":"0","p":"pi","B":2,"k":2.14},{"c":"g2g","g":"0","p":"pi","B":4,"k":4.14},{"c":"g2g","g":"0","p":"pi","B":9.2,"k":9.34},
{"c":"g2h","g":"0","p":"sg","B":0.005,"k":0.14},{"c":"g2h","g":"0","p":"sg","B":0.03,"k":0.18},{"c":"g2h","g":"0","p":"sg","B":0.1,"k":0.29},{"c":"g2h","g":"0","p":"sg","B":0.25,"k":0.51},{"c":"g2h","g":"0","p":"sg","B":0.5,"k":0.88},{"c":"g2h","g":"0","p":"sg","B":1,"k":1.63},{"c":"g2h","g":"0","p":"sg","B":2,"k":3.12},{"c":"g2h","g":"0","p":"sg","B":4,"k":6.1},
{"c":"g3a","g":"0","p":"pi","B":0.005,"k":0.55},{"c":"g3a","g":"0","p":"pi","B":0.03,"k":0.53},{"c":"g3a","g":"0","p":"pi","B":0.1,"k":0.46},{"c":"g3a","g":"0","p":"pi","B":0.25,"k":0.33},{"c":"g3a","g":"0","p":"pi","B":0.5,"k":0.1},{"c":"g3a","g":"0","p":"pi","B":1,"k":-0.35},{"c":"g3a","g":"0","p":"pi","B":2,"k":-1.25},{"c":"g3a","g":"0","p":"pi","B":4,"k":-3.05},
{"c":"g3b","g":"0","p":"sg","B":0.005,"k":0.55},{"c":"g3b","g":"0","p":"sg","B":0.03,"k":0.54},{"c":"g3b","g":"0","p":"sg","B":0.1,"k":0.5},{"c":"g3b","g":"0","p":"sg","B":0.25,"k":0.43},{"c":"g3b","g":"0","p":"sg","B":0.5,"k":0.3},{"c":"g3b","g":"0","p":"sg","B":1,"k":0.05},{"c":"g3b","g":"0","p":"sg","B":2,"k":-0.45},{"c":"g3b","g":"0","p":"sg","B":4,"k":-1.45},{"c":"g3b","g":"0","p":"sg","B":9.2,"k":-4.05},
{"c":"g3c","g":"0","p":"pi","B":0.005,"k":0.55},{"c":"g3c","g":"0","p":"pi","B":0.03,"k":0.55},{"c":"g3c","g":"0","p":"pi","B":0.1,"k":0.54},{"c":"g3c","g":"0","p":"pi","B":0.25,"k":0.51},{"c":"g3c","g":"0","p":"pi","B":0.5,"k":0.47},{"c":"g3c","g":"0","p":"pi","B":1,"k":0.38},{"c":"g3c","g":"0","p":"pi","B":2,"k":0.21},{"c":"g3c","g":"0","p":"pi","B":4,"k":-0.13},{"c":"g3c","g":"0","p":"pi","B":9.2,"k":-1.01},
{"c":"g3d","g":"0","p":"pi","B":0.005,"k":0.554},{"c":"g3d","g":"0","p":"pi","B":9.2,"k":0.554},
{"c":"g3e","g":"0","p":"sg","B":0.005,"k":0.56},{"c":"g3e","g":"0","p":"sg","B":0.03,"k":0.56},{"c":"g3e","g":"0","p":"sg","B":0.1,"k":0.57},{"c":"g3e","g":"0","p":"sg","B":0.25,"k":0.6},{"c":"g3e","g":"0","p":"sg","B":0.5,"k":0.65},{"c":"g3e","g":"0","p":"sg","B":1,"k":0.75},{"c":"g3e","g":"0","p":"sg","B":2,"k":0.95},{"c":"g3e","g":"0","p":"sg","B":4,"k":1.35},{"c":"g3e","g":"0","p":"sg","B":9.2,"k":2.39},
{"c":"g3f","g":"0","p":"pi","B":0.005,"k":0.56},{"c":"g3f","g":"0","p":"pi","B":0.03,"k":0.57},{"c":"g3f","g":"0","p":"pi","B":0.1,"k":0.6},{"c":"g3f","g":"0","p":"pi","B":0.25,"k":0.68},{"c":"g3f","g":"0","p":"pi","B":0.5,"k":0.8},{"c":"g3f","g":"0","p":"pi","B":1,"k":1.05},{"c":"g3f","g":"0","p":"pi","B":2,"k":1.55},{"c":"g3f","g":"0","p":"pi","B":4,"k":2.55},{"c":"g3f","g":"0","p":"pi","B":9.2,"k":5.15},
{"c":"g3g","g":"0","p":"sg","B":0.005,"k":0.56},{"c":"g3g","g":"0","p":"sg","B":0.03,"k":0.58},{"c":"g3g","g":"0","p":"sg","B":0.1,"k":0.66},{"c":"g3g","g":"0","p":"sg","B":0.25,"k":0.81},{"c":"g3g","g":"0","p":"sg","B":0.5,"k":1.07},{"c":"g3g","g":"0","p":"sg","B":1,"k":1.58},{"c":"g3g","g":"0","p":"sg","B":2,"k":2.61},{"c":"g3g","g":"0","p":"sg","B":4,"k":4.67},{"c":"g3g","g":"0","p":"sg","B":9.2,"k":10.03},
{"c":"g4a","g":"0","p":"sg","B":0.005,"k":1.13},{"c":"g4a","g":"0","p":"sg","B":0.03,"k":1.11},{"c":"g4a","g":"0","p":"sg","B":0.1,"k":1.05},{"c":"g4a","g":"0","p":"sg","B":0.25,"k":0.93},{"c":"g4a","g":"0","p":"sg","B":0.5,"k":0.73},{"c":"g4a","g":"0","p":"sg","B":1,"k":0.33},{"c":"g4a","g":"0","p":"sg","B":2,"k":-0.47},{"c":"g4a","g":"0","p":"sg","B":4,"k":-2.07},{"c":"g4a","g":"0","p":"sg","B":9.2,"k":-6.23},
{"c":"g4b","g":"0","p":"pi","B":0.005,"k":1.13},{"c":"g4b","g":"0","p":"pi","B":0.03,"k":1.12},{"c":"g4b","g":"0","p":"pi","B":0.1,"k":1.1},{"c":"g4b","g":"0","p":"pi","B":0.25,"k":1.05},{"c":"g4b","g":"0","p":"pi","B":0.5,"k":0.97},{"c":"g4b","g":"0","p":"pi","B":1,"k":0.81},{"c":"g4b","g":"0","p":"pi","B":2,"k":0.49},{"c":"g4b","g":"0","p":"pi","B":4,"k":-0.15},{"c":"g4b","g":"0","p":"pi","B":9.2,"k":-1.81},
{"c":"g4c","g":"0","p":"sg","B":0.005,"k":1.13},{"c":"g4c","g":"0","p":"sg","B":0.03,"k":1.12},{"c":"g4c","g":"0","p":"sg","B":0.1,"k":1.11},{"c":"g4c","g":"0","p":"sg","B":0.25,"k":1.08},{"c":"g4c","g":"0","p":"sg","B":0.5,"k":1.03},{"c":"g4c","g":"0","p":"sg","B":1,"k":0.93},{"c":"g4c","g":"0","p":"sg","B":2,"k":0.73},{"c":"g4c","g":"0","p":"sg","B":4,"k":0.33},{"c":"g4c","g":"0","p":"sg","B":9.2,"k":-0.71},
{"c":"g4d","g":"0","p":"pi","B":0.005,"k":1.13},{"c":"g4d","g":"0","p":"pi","B":0.03,"k":1.14},{"c":"g4d","g":"0","p":"pi","B":0.1,"k":1.17},{"c":"g4d","g":"0","p":"pi","B":0.25,"k":1.23},{"c":"g4d","g":"0","p":"pi","B":0.5,"k":1.33},{"c":"g4d","g":"0","p":"pi","B":1,"k":1.53},{"c":"g4d","g":"0","p":"pi","B":2,"k":1.93},{"c":"g4d","g":"0","p":"pi","B":4,"k":2.73},{"c":"g4d","g":"0","p":"pi","B":9.2,"k":4.81},
{"c":"g4e","g":"0","p":"sg","B":0.005,"k":1.13},{"c":"g4e","g":"0","p":"sg","B":0.03,"k":1.15},{"c":"g4e","g":"0","p":"sg","B":0.1,"k":1.19},{"c":"g4e","g":"0","p":"sg","B":0.25,"k":1.28},{"c":"g4e","g":"0","p":"sg","B":0.5,"k":1.43},{"c":"g4e","g":"0","p":"sg","B":1,"k":1.73},{"c":"g4e","g":"0","p":"sg","B":2,"k":2.33},{"c":"g4e","g":"0","p":"sg","B":4,"k":3.53},{"c":"g4e","g":"0","p":"sg","B":9.2,"k":6.65},
{"c":"g4f","g":"0","p":"pi","B":0.005,"k":1.13},{"c":"g4f","g":"0","p":"pi","B":0.03,"k":1.16},{"c":"g4f","g":"0","p":"pi","B":0.1,"k":1.24},{"c":"g4f","g":"0","p":"pi","B":0.25,"k":1.4},{"c":"g4f","g":"0","p":"pi","B":0.5,"k":1.68},{"c":"g4f","g":"0","p":"pi","B":1,"k":2.23},{"c":"g4f","g":"0","p":"pi","B":2,"k":3.33},{"c":"g4f","g":"0","p":"pi","B":4,"k":5.53},
{"c":"g5a","g":"0","p":"pi","B":0.005,"k":1.88},{"c":"g5a","g":"0","p":"pi","B":0.03,"k":1.86},{"c":"g5a","g":"0","p":"pi","B":0.1,"k":1.8},{"c":"g5a","g":"0","p":"pi","B":0.25,"k":1.66},{"c":"g5a","g":"0","p":"pi","B":0.5,"k":1.44},{"c":"g5a","g":"0","p":"pi","B":1,"k":0.99},{"c":"g5a","g":"0","p":"pi","B":2,"k":0.09},{"c":"g5a","g":"0","p":"pi","B":4,"k":-1.72},{"c":"g5a","g":"0","p":"pi","B":9.2,"k":-6.4},
{"c":"g5b","g":"0","p":"sg","B":0.005,"k":1.88},{"c":"g5b","g":"0","p":"sg","B":0.03,"k":1.87},{"c":"g5b","g":"0","p":"sg","B":0.1,"k":1.83},{"c":"g5b","g":"0","p":"sg","B":0.25,"k":1.76},{"c":"g5b","g":"0","p":"sg","B":0.5,"k":1.63},{"c":"g5b","g":"0","p":"sg","B":1,"k":1.38},{"c":"g5b","g":"0","p":"sg","B":2,"k":0.87},{"c":"g5b","g":"0","p":"sg","B":4,"k":-0.16},{"c":"g5b","g":"0","p":"sg","B":9.2,"k":-2.81},
{"c":"g5c","g":"0","p":"pi","B":0.005,"k":1.88},{"c":"g5c","g":"0","p":"pi","B":0.03,"k":1.87},{"c":"g5c","g":"0","p":"pi","B":0.1,"k":1.84},{"c":"g5c","g":"0","p":"pi","B":0.25,"k":1.78},{"c":"g5c","g":"0","p":"pi","B":0.5,"k":1.67},{"c":"g5c","g":"0","p":"pi","B":1,"k":1.46},{"c":"g5c","g":"0","p":"pi","B":2,"k":1.03},{"c":"g5c","g":"0","p":"pi","B":4,"k":0.17},{"c":"g5c","g":"0","p":"pi","B":9.2,"k":-2.07},
{"c":"g5d","g":"0","p":"sg","B":0.005,"k":1.88},{"c":"g5d","g":"0","p":"sg","B":0.03,"k":1.88},{"c":"g5d","g":"0","p":"sg","B":0.1,"k":1.86},{"c":"g5d","g":"0","p":"sg","B":0.25,"k":1.82},{"c":"g5d","g":"0","p":"sg","B":0.5,"k":1.76},{"c":"g5d","g":"0","p":"sg","B":1,"k":1.64},{"c":"g5d","g":"0","p":"sg","B":2,"k":1.39},{"c":"g5d","g":"0","p":"sg","B":4,"k":0.89},{"c":"g5d","g":"0","p":"sg","B":9.2,"k":-0.42},
{"c":"g5e","g":"0","p":"sg","B":0.005,"k":1.89},{"c":"g5e","g":"0","p":"sg","B":0.03,"k":1.9},{"c":"g5e","g":"0","p":"sg","B":0.1,"k":1.92},{"c":"g5e","g":"0","p":"sg","B":0.25,"k":1.97},{"c":"g5e","g":"0","p":"sg","B":0.5,"k":2.06},{"c":"g5e","g":"0","p":"sg","B":1,"k":2.24},{"c":"g5e","g":"0","p":"sg","B":2,"k":2.59},{"c":"g5e","g":"0","p":"sg","B":4,"k":3.29},{"c":"g5e","g":"0","p":"sg","B":9.2,"k":5.11},
{"c":"g5f","g":"0","p":"pi","B":0.005,"k":1.89},{"c":"g5f","g":"0","p":"pi","B":0.03,"k":1.91},{"c":"g5f","g":"0","p":"pi","B":0.1,"k":1.96},{"c":"g5f","g":"0","p":"pi","B":0.25,"k":2.06},{"c":"g5f","g":"0","p":"pi","B":0.5,"k":2.24},{"c":"g5f","g":"0","p":"pi","B":1,"k":2.59},{"c":"g5f","g":"0","p":"pi","B":2,"k":3.29},{"c":"g5f","g":"0","p":"pi","B":4,"k":4.69},{"c":"g5f","g":"0","p":"pi","B":9.2,"k":8.33},
{"c":"g5g","g":"0","p":"sg","B":0.005,"k":1.89},{"c":"g5g","g":"0","p":"sg","B":0.03,"k":1.92},{"c":"g5g","g":"0","p":"sg","B":0.1,"k":2.02},{"c":"g5g","g":"0","p":"sg","B":0.25,"k":2.21},{"c":"g5g","g":"0","p":"sg","B":0.5,"k":2.54},{"c":"g5g","g":"0","p":"sg","B":1,"k":3.19},{"c":"g5g","g":"0","p":"sg","B":2,"k":4.49},{"c":"g5g","g":"0","p":"sg","B":4,"k":7.09},
{"c":"o1a","g":"+1","p":"sg","B":0.005,"k":0.65},{"c":"o1a","g":"+1","p":"sg","B":0.03,"k":0.65},{"c":"o1a","g":"+1","p":"sg","B":0.1,"k":0.65},{"c":"o1a","g":"+1","p":"sg","B":0.25,"k":0.63},{"c":"o1a","g":"+1","p":"sg","B":0.5,"k":0.61},{"c":"o1a","g":"+1","p":"sg","B":1,"k":0.57},{"c":"o1a","g":"+1","p":"sg","B":2,"k":0.49},{"c":"o1a","g":"+1","p":"sg","B":4,"k":0.33},{"c":"o1a","g":"+1","p":"sg","B":9.2,"k":-0.08},
{"c":"o1b","g":"+1","p":"pi","B":0.005,"k":0.66},{"c":"o1b","g":"+1","p":"pi","B":0.03,"k":0.66},{"c":"o1b","g":"+1","p":"pi","B":0.1,"k":0.68},{"c":"o1b","g":"+1","p":"pi","B":0.25,"k":0.73},{"c":"o1b","g":"+1","p":"pi","B":0.5,"k":0.8},{"c":"o1b","g":"+1","p":"pi","B":1,"k":0.95},{"c":"o1b","g":"+1","p":"pi","B":2,"k":1.25},{"c":"o1b","g":"+1","p":"pi","B":4,"k":1.85},{"c":"o1b","g":"+1","p":"pi","B":9.2,"k":3.41},
{"c":"o1c","g":"+1","p":"sg","B":0.005,"k":0.66},{"c":"o1c","g":"+1","p":"sg","B":0.03,"k":0.67},{"c":"o1c","g":"+1","p":"sg","B":0.1,"k":0.72},{"c":"o1c","g":"+1","p":"sg","B":0.25,"k":0.83},{"c":"o1c","g":"+1","p":"sg","B":0.5,"k":1},{"c":"o1c","g":"+1","p":"sg","B":1,"k":1.35},{"c":"o1c","g":"+1","p":"sg","B":2,"k":2.05},{"c":"o1c","g":"+1","p":"sg","B":4,"k":3.45},{"c":"o1c","g":"+1","p":"sg","B":9.2,"k":7.09},
{"c":"o1d","g":"+1","p":"pi","B":0.005,"k":0.66},{"c":"o1d","g":"+1","p":"pi","B":0.03,"k":0.69},{"c":"o1d","g":"+1","p":"pi","B":0.1,"k":0.77},{"c":"o1d","g":"+1","p":"pi","B":0.25,"k":0.95},{"c":"o1d","g":"+1","p":"pi","B":0.5,"k":1.25},{"c":"o1d","g":"+1","p":"pi","B":1,"k":1.85},{"c":"o1d","g":"+1","p":"pi","B":2,"k":3.05},{"c":"o1d","g":"+1","p":"pi","B":4,"k":5.45},
{"c":"o1e","g":"+1","p":"sg","B":0.005,"k":0.66},{"c":"o1e","g":"+1","p":"sg","B":0.03,"k":0.71},{"c":"o1e","g":"+1","p":"sg","B":0.1,"k":0.83},{"c":"o1e","g":"+1","p":"sg","B":0.25,"k":1.09},{"c":"o1e","g":"+1","p":"sg","B":0.5,"k":1.53},{"c":"o1e","g":"+1","p":"sg","B":1,"k":2.4},{"c":"o1e","g":"+1","p":"sg","B":2,"k":4.15},{"c":"o1e","g":"+1","p":"sg","B":4,"k":7.65},
{"c":"o2a","g":"+1","p":"pi","B":0.005,"k":1.41},{"c":"o2a","g":"+1","p":"pi","B":0.03,"k":1.4},{"c":"o2a","g":"+1","p":"pi","B":0.1,"k":1.39},{"c":"o2a","g":"+1","p":"pi","B":0.25,"k":1.37},{"c":"o2a","g":"+1","p":"pi","B":0.5,"k":1.33},{"c":"o2a","g":"+1","p":"pi","B":1,"k":1.26},{"c":"o2a","g":"+1","p":"pi","B":2,"k":1.11},{"c":"o2a","g":"+1","p":"pi","B":4,"k":0.81},{"c":"o2a","g":"+1","p":"pi","B":9.2,"k":0.03},
{"c":"o2b","g":"+1","p":"sg","B":0.005,"k":1.41},{"c":"o2b","g":"+1","p":"sg","B":0.03,"k":1.41},{"c":"o2b","g":"+1","p":"sg","B":0.1,"k":1.4},{"c":"o2b","g":"+1","p":"sg","B":0.25,"k":1.4},{"c":"o2b","g":"+1","p":"sg","B":0.5,"k":1.38},{"c":"o2b","g":"+1","p":"sg","B":1,"k":1.36},{"c":"o2b","g":"+1","p":"sg","B":2,"k":1.31},{"c":"o2b","g":"+1","p":"sg","B":4,"k":1.21},{"c":"o2b","g":"+1","p":"sg","B":9.2,"k":0.95},
{"c":"o2c","g":"+1","p":"pi","B":0.005,"k":1.41},{"c":"o2c","g":"+1","p":"pi","B":0.03,"k":1.42},{"c":"o2c","g":"+1","p":"pi","B":0.1,"k":1.45},{"c":"o2c","g":"+1","p":"pi","B":0.25,"k":1.51},{"c":"o2c","g":"+1","p":"pi","B":0.5,"k":1.61},{"c":"o2c","g":"+1","p":"pi","B":1,"k":1.81},{"c":"o2c","g":"+1","p":"pi","B":2,"k":2.21},{"c":"o2c","g":"+1","p":"pi","B":4,"k":3.01},{"c":"o2c","g":"+1","p":"pi","B":9.2,"k":5.09},
{"c":"o2d","g":"+1","p":"sg","B":0.005,"k":1.41},{"c":"o2d","g":"+1","p":"sg","B":0.03,"k":1.43},{"c":"o2d","g":"+1","p":"sg","B":0.1,"k":1.49},{"c":"o2d","g":"+1","p":"sg","B":0.25,"k":1.61},{"c":"o2d","g":"+1","p":"sg","B":0.5,"k":1.81},{"c":"o2d","g":"+1","p":"sg","B":1,"k":2.21},{"c":"o2d","g":"+1","p":"sg","B":2,"k":3.01},{"c":"o2d","g":"+1","p":"sg","B":4,"k":4.61},{"c":"o2d","g":"+1","p":"sg","B":9.2,"k":8.77},
{"c":"o2e","g":"+1","p":"pi","B":0.005,"k":1.41},{"c":"o2e","g":"+1","p":"pi","B":0.03,"k":1.44},{"c":"o2e","g":"+1","p":"pi","B":0.1,"k":1.53},{"c":"o2e","g":"+1","p":"pi","B":0.25,"k":1.7},{"c":"o2e","g":"+1","p":"pi","B":0.5,"k":2},{"c":"o2e","g":"+1","p":"pi","B":1,"k":2.59},{"c":"o2e","g":"+1","p":"pi","B":2,"k":3.77},{"c":"o2e","g":"+1","p":"pi","B":4,"k":6.13},
{"c":"o3a","g":"+1","p":"sg","B":0.005,"k":2.33},{"c":"o3a","g":"+1","p":"sg","B":0.03,"k":2.32},{"c":"o3a","g":"+1","p":"sg","B":0.1,"k":2.31},{"c":"o3a","g":"+1","p":"sg","B":0.25,"k":2.28},{"c":"o3a","g":"+1","p":"sg","B":0.5,"k":2.23},{"c":"o3a","g":"+1","p":"sg","B":1,"k":2.13},{"c":"o3a","g":"+1","p":"sg","B":2,"k":1.93},{"c":"o3a","g":"+1","p":"sg","B":4,"k":1.53},{"c":"o3a","g":"+1","p":"sg","B":9.2,"k":0.49},
{"c":"o3b","g":"+1","p":"pi","B":0.005,"k":2.33},{"c":"o3b","g":"+1","p":"pi","B":0.03,"k":2.33},{"c":"o3b","g":"+1","p":"pi","B":0.1,"k":2.32},{"c":"o3b","g":"+1","p":"pi","B":0.25,"k":2.29},{"c":"o3b","g":"+1","p":"pi","B":0.5,"k":2.26},{"c":"o3b","g":"+1","p":"pi","B":1,"k":2.18},{"c":"o3b","g":"+1","p":"pi","B":2,"k":2.03},{"c":"o3b","g":"+1","p":"pi","B":4,"k":1.73},{"c":"o3b","g":"+1","p":"pi","B":9.2,"k":0.95},
{"c":"o3c","g":"+1","p":"pi","B":0.005,"k":2.33},{"c":"o3c","g":"+1","p":"pi","B":9.2,"k":2.33},
{"c":"o3d","g":"+1","p":"sg","B":0.005,"k":2.33},{"c":"o3d","g":"+1","p":"sg","B":0.03,"k":2.34},{"c":"o3d","g":"+1","p":"sg","B":0.1,"k":2.37},{"c":"o3d","g":"+1","p":"sg","B":0.25,"k":2.42},{"c":"o3d","g":"+1","p":"sg","B":0.5,"k":2.51},{"c":"o3d","g":"+1","p":"sg","B":1,"k":2.68},{"c":"o3d","g":"+1","p":"sg","B":2,"k":3.03},{"c":"o3d","g":"+1","p":"sg","B":4,"k":3.73},{"c":"o3d","g":"+1","p":"sg","B":9.2,"k":5.55},
{"c":"o3e","g":"+1","p":"pi","B":0.005,"k":2.33},{"c":"o3e","g":"+1","p":"pi","B":0.03,"k":2.34},{"c":"o3e","g":"+1","p":"pi","B":0.1,"k":2.38},{"c":"o3e","g":"+1","p":"pi","B":0.25,"k":2.45},{"c":"o3e","g":"+1","p":"pi","B":0.5,"k":2.57},{"c":"o3e","g":"+1","p":"pi","B":1,"k":2.81},{"c":"o3e","g":"+1","p":"pi","B":2,"k":3.29},{"c":"o3e","g":"+1","p":"pi","B":4,"k":4.25},{"c":"o3e","g":"+1","p":"pi","B":9.2,"k":6.75},
{"c":"o3f","g":"+1","p":"pi","B":0.005,"k":2.33},{"c":"o3f","g":"+1","p":"pi","B":0.03,"k":2.35},{"c":"o3f","g":"+1","p":"pi","B":0.1,"k":2.41},{"c":"o3f","g":"+1","p":"pi","B":0.25,"k":2.52},{"c":"o3f","g":"+1","p":"pi","B":0.5,"k":2.71},{"c":"o3f","g":"+1","p":"pi","B":1,"k":3.08},{"c":"o3f","g":"+1","p":"pi","B":2,"k":3.83},{"c":"o3f","g":"+1","p":"pi","B":4,"k":5.33},
{"c":"o3g","g":"+1","p":"sg","B":0.005,"k":2.34},{"c":"o3g","g":"+1","p":"sg","B":0.03,"k":2.37},{"c":"o3g","g":"+1","p":"sg","B":0.1,"k":2.45},{"c":"o3g","g":"+1","p":"sg","B":0.25,"k":2.63},{"c":"o3g","g":"+1","p":"sg","B":0.5,"k":2.93},{"c":"o3g","g":"+1","p":"sg","B":1,"k":3.53},{"c":"o3g","g":"+1","p":"sg","B":2,"k":4.73},{"c":"o3g","g":"+1","p":"sg","B":4,"k":7.13},
{"c":"o4a","g":"+1","p":"pi","B":0.005,"k":3.44},{"c":"o4a","g":"+1","p":"pi","B":0.03,"k":3.43},{"c":"o4a","g":"+1","p":"pi","B":0.1,"k":3.39},{"c":"o4a","g":"+1","p":"pi","B":0.25,"k":3.33},{"c":"o4a","g":"+1","p":"pi","B":0.5,"k":3.22},{"c":"o4a","g":"+1","p":"pi","B":1,"k":2.99},{"c":"o4a","g":"+1","p":"pi","B":2,"k":2.54},{"c":"o4a","g":"+1","p":"pi","B":4,"k":1.64},{"c":"o4a","g":"+1","p":"pi","B":9.2,"k":-0.7},
{"c":"o4b","g":"+1","p":"sg","B":0.005,"k":3.44},{"c":"o4b","g":"+1","p":"sg","B":0.03,"k":3.43},{"c":"o4b","g":"+1","p":"sg","B":0.1,"k":3.4},{"c":"o4b","g":"+1","p":"sg","B":0.25,"k":3.35},{"c":"o4b","g":"+1","p":"sg","B":0.5,"k":3.25},{"c":"o4b","g":"+1","p":"sg","B":1,"k":3.07},{"c":"o4b","g":"+1","p":"sg","B":2,"k":2.7},{"c":"o4b","g":"+1","p":"sg","B":4,"k":1.96},{"c":"o4b","g":"+1","p":"sg","B":9.2,"k":0.03},
{"c":"o4c","g":"+1","p":"pi","B":0.005,"k":3.44},{"c":"o4c","g":"+1","p":"pi","B":0.03,"k":3.43},{"c":"o4c","g":"+1","p":"pi","B":0.1,"k":3.41},{"c":"o4c","g":"+1","p":"pi","B":0.25,"k":3.36},{"c":"o4c","g":"+1","p":"pi","B":0.5,"k":3.28},{"c":"o4c","g":"+1","p":"pi","B":1,"k":3.11},{"c":"o4c","g":"+1","p":"pi","B":2,"k":2.78},{"c":"o4c","g":"+1","p":"pi","B":4,"k":2.12},{"c":"o4c","g":"+1","p":"pi","B":9.2,"k":0.4},
{"c":"o4d","g":"+1","p":"sg","B":0.005,"k":3.44},{"c":"o4d","g":"+1","p":"sg","B":0.03,"k":3.45},{"c":"o4d","g":"+1","p":"sg","B":0.1,"k":3.47},{"c":"o4d","g":"+1","p":"sg","B":0.25,"k":3.51},{"c":"o4d","g":"+1","p":"sg","B":0.5,"k":3.59},{"c":"o4d","g":"+1","p":"sg","B":1,"k":3.74},{"c":"o4d","g":"+1","p":"sg","B":2,"k":4.04},{"c":"o4d","g":"+1","p":"sg","B":4,"k":4.64},{"c":"o4d","g":"+1","p":"sg","B":9.2,"k":6.2},
{"c":"o4e","g":"+1","p":"pi","B":0.005,"k":3.44},{"c":"o4e","g":"+1","p":"pi","B":0.03,"k":3.46},{"c":"o4e","g":"+1","p":"pi","B":0.1,"k":3.5},{"c":"o4e","g":"+1","p":"pi","B":0.25,"k":3.59},{"c":"o4e","g":"+1","p":"pi","B":0.5,"k":3.74},{"c":"o4e","g":"+1","p":"pi","B":1,"k":4.04},{"c":"o4e","g":"+1","p":"pi","B":2,"k":4.64},{"c":"o4e","g":"+1","p":"pi","B":4,"k":5.84},
{"c":"o4f","g":"+1","p":"pi","B":0.005,"k":3.44},{"c":"o4f","g":"+1","p":"pi","B":0.03,"k":3.46},{"c":"o4f","g":"+1","p":"pi","B":0.1,"k":3.52},{"c":"o4f","g":"+1","p":"pi","B":0.25,"k":3.65},{"c":"o4f","g":"+1","p":"pi","B":0.5,"k":3.86},{"c":"o4f","g":"+1","p":"pi","B":1,"k":4.29},{"c":"o4f","g":"+1","p":"pi","B":2,"k":5.14},{"c":"o4f","g":"+1","p":"pi","B":4,"k":6.84},
{"c":"o4g","g":"+1","p":"sg","B":0.005,"k":3.44},{"c":"o4g","g":"+1","p":"sg","B":0.03,"k":3.47},{"c":"o4g","g":"+1","p":"sg","B":0.1,"k":3.55},{"c":"o4g","g":"+1","p":"sg","B":0.25,"k":3.71},{"c":"o4g","g":"+1","p":"sg","B":0.5,"k":3.99},{"c":"o4g","g":"+1","p":"sg","B":1,"k":4.54},{"c":"o4g","g":"+1","p":"sg","B":2,"k":5.64}
]},
"vconcat":[
{"width":1603,"height":501,
"layer":[
{"data":{"values":[
{"k":-0.855,"w":4.42,"g":"-1"},{"k":-0.741,"w":6.94,"g":"-1"},{"k":-0.791,"w":1.84,"g":"-1"},{"k":-0.437,"w":9.51,"g":"-1"},{"k":-0.284,"w":1.84,"g":"0"},{"k":0.05,"w":12.02,"g":"-1"},{"k":0.0,"w":4.42,"g":"0"},{"k":0.492,"w":6.94,"g":"0"},{"k":0.508,"w":1.84,"g":"+1"},{"k":1.169,"w":9.51,"g":"0"},{"k":1.334,"w":4.42,"g":"+1"},{"k":2.061,"w":12.02,"g":"0"},{"k":2.383,"w":6.94,"g":"+1"},{"k":3.65,"w":9.51,"g":"+1"}]},
"mark":{"type":"bar","size":22,"stroke":"black","strokeWidth":1.5,"cornerRadius":2},
"encoding":{
"x":{"field":"k","type":"quantitative","scale":{"domain":[-2.205,5.128],"nice":false,"zero":false},"axis":{"orient":"top","values":[-1,0,1,2,3],"labels":false,"tickSize":-6,"tickWidth":2.5,"domainWidth":4,"title":null}},
"y":{"field":"w","type":"quantitative","scale":{"domain":[-0.65,12.93],"nice":false,"zero":false},"axis":{"values":[0,2,4,6,8,10,12],"ticks":false,"labelFontSize":55,"labelPadding":11,"domainWidth":4,"title":["Statistical weight","(2F+1)"],"titleFontSize":63,"titleLineHeight":79,"titleX":-184,"titleY":243,"titleBaseline":"middle","titleAngle":-90}},
"y2":{"datum":-0.65},
"color":{"field":"g","type":"nominal","scale":{"domain":["-1","0","+1"],"range":["#0000CC","#037A17","#FFF200"]},"legend":null}}},
{"data":{"values":[{"k1":-1.505,"k2":3.948}]},
"mark":{"type":"rule","strokeWidth":4.5,"color":"black"},
"encoding":{"x":{"field":"k1","type":"quantitative","axis":{"orient":"bottom","values":[-1,0,1,2,3],"labels":false,"tickSize":-25,"tickWidth":2.5,"domain":false,"title":null}},"x2":{"field":"k2"},"y":{"datum":-0.65}}},
{"data":{"values":[{"k":-0.114,"w":14.12,"t":"ΔF"},{"k":0.942,"w":10.2,"t":"ΔF"},{"k":3.381,"w":10.95,"t":"ΔF"}]},
"mark":{"type":"text","font":"Lato","fontSize":46,"fontStyle":"italic","align":"right","baseline":"middle","color":"black"},
"encoding":{"x":{"field":"k","type":"quantitative","axis":null},"y":{"field":"w","type":"quantitative"},"text":{"field":"t"}}},
{"data":{"values":[{"k":-0.07,"w":14.12,"t":"= -1"},{"k":0.984,"w":10.2,"t":"= \u00a00"},{"k":3.426,"w":10.95,"t":"= +1"}]},
"mark":{"type":"text","font":"Lato","fontSize":46,"align":"left","baseline":"middle","color":"black"},
"encoding":{"x":{"field":"k","type":"quantitative","axis":null},"y":{"field":"w","type":"quantitative"},"text":{"field":"t"}}}
],
"resolve":{"axis":{"x":"independent"}}},
{"width":1603,"height":812,
"layer":[
{"data":{"values":[
{"k":-0.715,"v":32.6,"g":"-1"},{"k":-0.656,"v":58.5,"g":"-1"},{"k":-0.618,"v":13.9,"g":"-1"},{"k":-0.423,"v":92.8,"g":"-1"},{"k":-0.032,"v":136.7,"g":"-1"},{"k":-0.11,"v":17.5,"g":"0"},{"k":0.137,"v":25.7,"g":"0"},{"k":0.554,"v":31.3,"g":"0"},{"k":0.654,"v":4.8,"g":"+1"},{"k":1.129,"v":30.6,"g":"0"},{"k":1.409,"v":5.0,"g":"+1"},{"k":1.885,"v":21.1,"g":"0"},{"k":2.33,"v":3.5,"g":"+1"},{"k":3.438,"v":1.2,"g":"+1"}]},
"mark":{"type":"bar","size":23.5,"stroke":"black","strokeWidth":1.2},
"encoding":{
"x":{"field":"k","type":"quantitative","scale":{"domain":[-2.205,5.128],"nice":false,"zero":false},"axis":{"orient":"bottom","values":[-2,-1,0,1,2,3,4,5],"labels":false,"tickSize":-13,"tickWidth":1.5,"domainWidth":1.5,"title":null}},
"y":{"field":"v","type":"quantitative","scale":{"domain":[0,148.9],"nice":false},"axis":{"values":[0,40,80,120],"tickSize":-13,"tickWidth":1.5,"labelFontSize":62,"labelOffset":-33,"labelPadding":19,"domainWidth":1.5,"title":"gA [s⁻¹]","titleFontSize":62,"titleX":-171,"titleY":422,"titleBaseline":"middle","titleAngle":-90}},
"y2":{"datum":0},
"color":{"field":"g","type":"nominal","scale":{"domain":["-1","0","+1"],"range":["#0000D0","#0B5E1C","#FF9326"]},"legend":null}}},
{"data":{"values":[{"k":3.287,"v":107.9,"g":"-1"},{"k":3.287,"v":82.0,"g":"0"},{"k":3.287,"v":56.1,"g":"+1"}]},
"mark":{"type":"point","shape":"square","size":361,"filled":true,"stroke":"black","strokeWidth":1,"opacity":1},
"encoding":{"x":{"field":"k","type":"quantitative","axis":{"orient":"top","values":[-2,-1,0,1,2,3,4,5],"labels":false,"tickSize":-10,"tickWidth":1.5,"domainWidth":1.5,"title":null}},"y":{"field":"v","type":"quantitative"},"color":{"field":"g","type":"nominal","legend":null}}},
{"data":{"values":[{"k":3.669,"v":110.6,"t":"ΔF"},{"k":3.669,"v":85.7,"t":"ΔF"},{"k":3.669,"v":59.0,"t":"ΔF"}]},
"mark":{"type":"text","font":"Lato","fontSize":53,"fontStyle":"italic","align":"right","baseline":"middle","color":"black"},
"encoding":{"x":{"field":"k","type":"quantitative","axis":null},"y":{"field":"v","type":"quantitative"},"text":{"field":"t"}}},
{"data":{"values":[{"k":3.733,"v":110.6,"t":"= -1"},{"k":3.733,"v":85.7,"t":"= \u00a00"},{"k":3.733,"v":59.0,"t":"= +1"}]},
"mark":{"type":"text","font":"Lato","fontSize":53,"align":"left","baseline":"middle","color":"black"},
"encoding":{"x":{"field":"k","type":"quantitative","axis":null},"y":{"field":"v","type":"quantitative"},"text":{"field":"t"}}},
{"data":{"values":[{"k":5.105,"v":133.4,"t":"**Simulation intensity"}]},
"mark":{"type":"text","font":"Liberation Sans","fontSize":63,"fontWeight":"bold","align":"right","baseline":"middle","color":"black"},
"encoding":{"x":{"field":"k","type":"quantitative","axis":null},"y":{"field":"v","type":"quantitative"},"text":{"field":"t"}}}
],
"resolve":{"axis":{"x":"independent"}}},
{"width":1603,"height":818,
"layer":[
{"data":{"values":[{"k1":-2.205,"k2":5.128,"B1":0.5,"B2":9.15}]},
"mark":{"type":"rect","color":"#E1D6EA"},
"encoding":{
"x":{"field":"k1","type":"quantitative","scale":{"domain":[-2.205,5.128],"nice":false,"zero":false},"axis":{"orient":"top","values":[-2,-1,0,1,2,3,4,5],"labels":false,"tickSize":-13,"tickWidth":1.5,"domainWidth":1.5,"title":null}},
"x2":{"field":"k2"},
"y":{"field":"B1","type":"quantitative","scale":{"type":"log","domain":[0.00469,9.15],"reverse":true,"nice":false},"axis":{"orient":"left","values":[0.006,0.007,0.008,0.009,0.01,0.02,0.03,0.04,0.05,0.06,0.07,0.08,0.09,0.1,0.2,0.3,0.4,0.5,0.6,0.7,0.8,0.9,1,2,3,4,5,6,7,8,9],"format":"~g","labelExpr":"datum.value == 0.01 || datum.value == 0.1 || datum.value == 1 ? datum.label : ''","tickSize":{"condition":{"test":"datum.value == 0.01 || datum.value == 0.1 || datum.value == 1","value":-12},"value":-7},"tickWidth":1.5,"labelFontSize":57,"labelPadding":32,"labelOffset":-9,"domainWidth":1.5,"title":"Magnetic field [T]","titleFontSize":62,"titleX":-176,"titleY":438,"titleBaseline":"middle","titleAngle":-90}},
"y2":{"field":"B2"}}},
{"data":{"name":"curves"},
"mark":{"type":"line","strokeWidth":3.3,"interpolate":"catmull-rom","clip":true},
"encoding":{
"x":{"field":"k","type":"quantitative","axis":{"orient":"bottom","values":[-2,-1,0,1,2,3,4,5],"labelExpr":"datum.value < 0 ? '-' + abs(datum.value) : '' + datum.value","labelFontSize":57,"tickSize":-12,"tickWidth":1.5,"labelPadding":61,"labelBaseline":"middle","domainWidth":1.5,"title":"Δ k [cm⁻¹]","titleFontSize":60,"titleX":813,"titleY":123,"titleBaseline":"middle"}},
"y":{"field":"B","type":"quantitative"},
"color":{"field":"g","type":"nominal","scale":{"domain":["-1","0","+1"],"range":["#1414CC","#1D5C2E","#EE6A1C"]},"legend":null},
"strokeDash":{"field":"p","type":"nominal","scale":{"domain":["pi","sg"],"range":[[1,0],[3,4]]},"legend":null},
"detail":{"field":"c"},
"order":{"field":"B","type":"quantitative"}}},
{"data":{"values":[{}]},
"mark":{"type":"rule","color":"#FF0000","strokeWidth":4,"strokeDash":[5,5]},
"encoding":{"y":{"datum":0.03}}},
{"data":{"values":[{"k1":3.733,"k2":5.091,"B1":0.0162,"B2":0.063}]},
"mark":{"type":"rect","fill":"white","stroke":"#FF0000","strokeWidth":3.5,"strokeDash":[4,4]},
"encoding":{"x":{"field":"k1","type":"quantitative","axis":null},"x2":{"field":"k2"},"y":{"field":"B1","type":"quantitative"},"y2":{"field":"B2"}}},
{"data":{"values":[{"k1":2.286,"k2":5.5,"B1":2.77,"B2":6.85}]},
"mark":{"type":"rect","fill":"white","stroke":"#7030A0","strokeWidth":3.5,"strokeDash":[4,4],"clip":true},
"encoding":{"x":{"field":"k1","type":"quantitative","axis":null},"x2":{"field":"k2"},"y":{"field":"B1","type":"quantitative"},"y2":{"field":"B2"}}},
{"data":{"values":[{"k":4.41,"B":0.0224,"t":"Present"},{"k":4.41,"B":0.043,"t":"field"}]},
"mark":{"type":"text","font":"Liberation Sans","fontSize":58,"fontWeight":"bold","align":"center","baseline":"middle","color":"black"},
"encoding":{"x":{"field":"k","type":"quantitative","axis":null},"y":{"field":"B","type":"quantitative"},"text":{"field":"t"}}},
{"data":{"values":[{"k":3.683,"B":4.44,"t":"Typical EBIT field"}]},
"mark":{"type":"text","font":"Liberation Sans","fontSize":58,"fontWeight":"bold","align":"center","baseline":"middle","color":"#7030A0"},
"encoding":{"x":{"field":"k","type":"quantitative","axis":null},"y":{"field":"B","type":"quantitative"},"text":{"field":"t"}}}
],
"resolve":{"axis":{"x":"independent"}}}
],
"spacing":9,
"bounds":"flush",
"resolve":{"scale":{"color":"independent","strokeDash":"independent"}}
}
